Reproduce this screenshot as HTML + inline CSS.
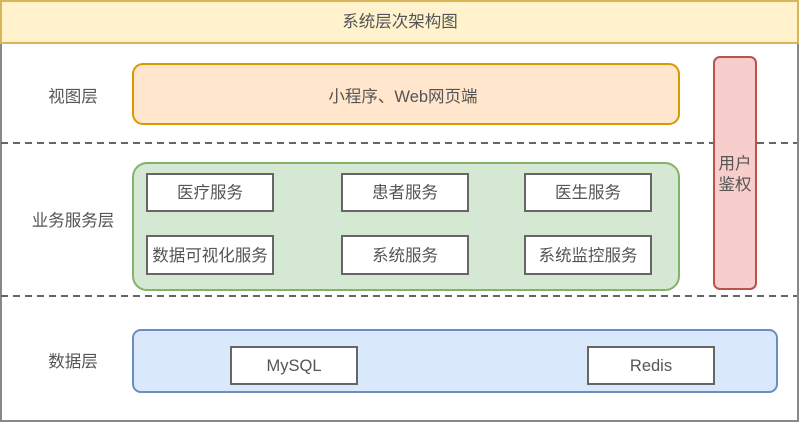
<!DOCTYPE html>
<html><head><meta charset="utf-8"><style>
html,body{margin:0;padding:0;background:#fff;width:800px;height:423px;overflow:hidden}
text{font-family:"Liberation Sans","Noto Sans CJK SC",sans-serif;font-size:16.5px;fill:#555;text-anchor:middle;dominant-baseline:central}
</style></head><body>
<svg width="800" height="423" viewBox="0 0 800 423" xmlns="http://www.w3.org/2000/svg">
<rect x="1" y="1" width="797" height="420" fill="#fff" stroke="#888" stroke-width="2"/>
<rect x="1" y="1" width="797" height="42" fill="#fff2cc" stroke="#d6b656" stroke-width="2"/>
<text x="400" y="22">系统层次架构图</text>
<line x1="1" y1="143" x2="797" y2="143" stroke="#666" stroke-width="2" stroke-dasharray="7,5"/>
<line x1="1" y1="296" x2="797" y2="296" stroke="#666" stroke-width="2" stroke-dasharray="7,5"/>
<text x="73" y="97">视图层</text>
<text x="73" y="221">业务服务层</text>
<text x="73" y="362">数据层</text>
<rect x="133" y="64" width="546" height="60" rx="10" fill="#ffe6cc" stroke="#d79b00" stroke-width="2"/>
<text x="403" y="97">小程序、Web网页端</text>
<rect x="133" y="163" width="546" height="127" rx="14" fill="#d5e8d4" stroke="#82b366" stroke-width="2"/>
<g fill="#fff" stroke="#666" stroke-width="2">
<rect x="147" y="174" width="126" height="37"/>
<rect x="342" y="174" width="126" height="37"/>
<rect x="525" y="174" width="126" height="37"/>
<rect x="147" y="236" width="126" height="38"/>
<rect x="342" y="236" width="126" height="38"/>
<rect x="525" y="236" width="126" height="38"/>
</g>
<text x="210" y="193">医疗服务</text>
<text x="405" y="193">患者服务</text>
<text x="588" y="193">医生服务</text>
<text x="210" y="256">数据可视化服务</text>
<text x="405" y="256">系统服务</text>
<text x="588" y="256">系统监控服务</text>
<rect x="714" y="57" width="42" height="232" rx="6" fill="#f8cecc" stroke="#b85450" stroke-width="2"/>
<text x="735" y="164">用户</text>
<text x="735" y="185">鉴权</text>
<rect x="133" y="330" width="644" height="62" rx="8" fill="#dae8fc" stroke="#6c8ebf" stroke-width="2"/>
<rect x="231" y="347" width="126" height="37" fill="#fff" stroke="#666" stroke-width="2"/>
<rect x="588" y="347" width="126" height="37" fill="#fff" stroke="#666" stroke-width="2"/>
<text x="294" y="366">MySQL</text>
<text x="651" y="366">Redis</text>
</svg>
</body></html>
